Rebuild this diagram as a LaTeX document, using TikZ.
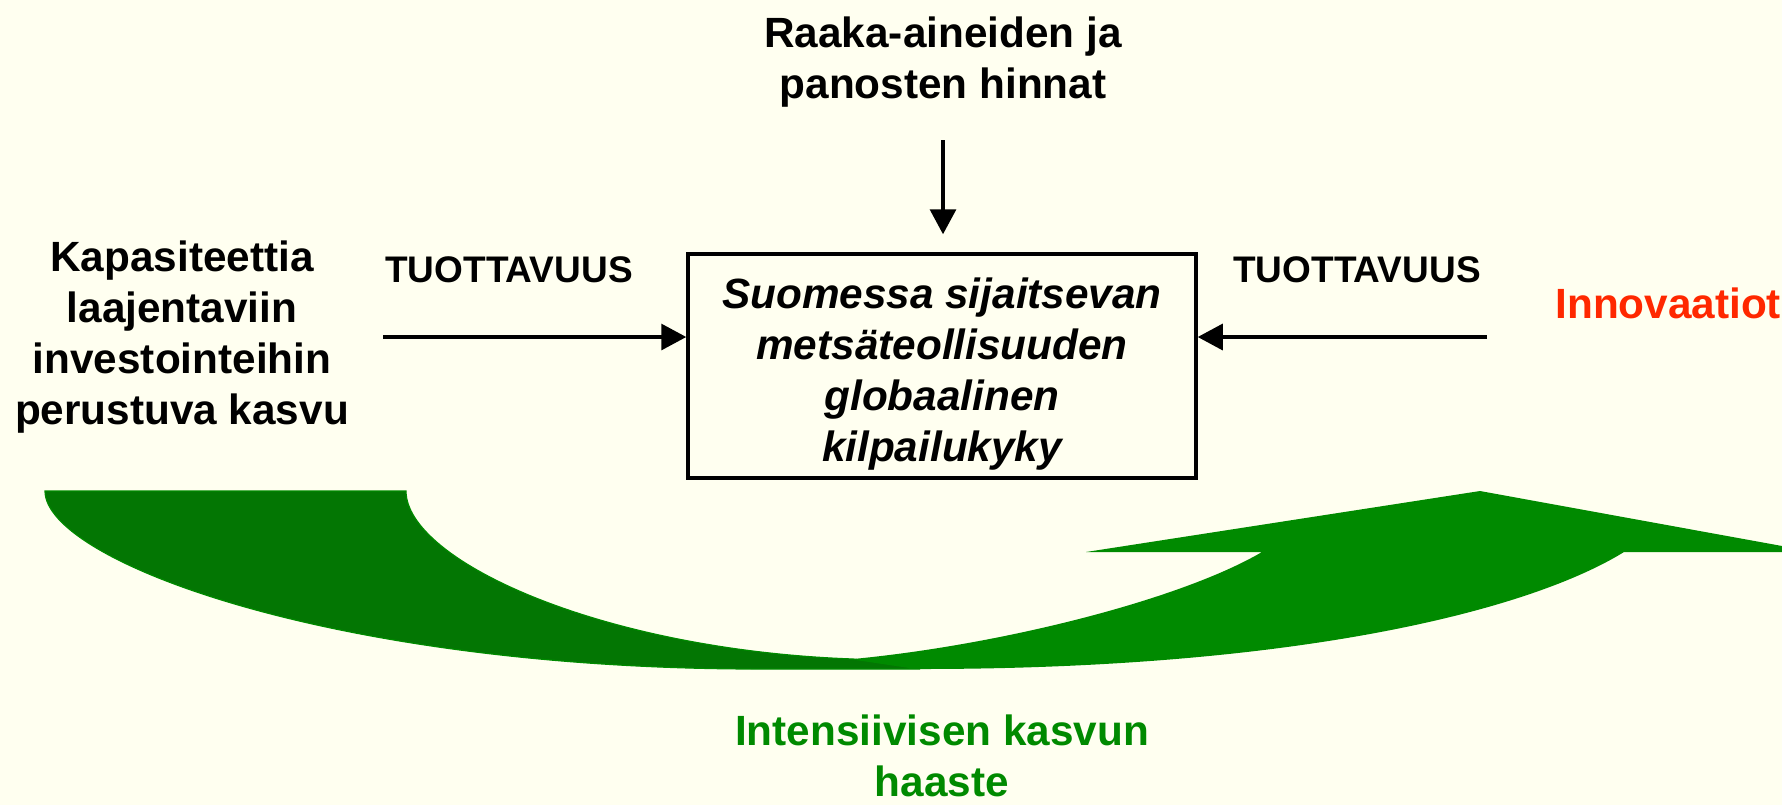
\documentclass[tikz,border=0pt]{standalone}
\usepackage{fontspec}
\setmainfont{Liberation Sans}
\usetikzlibrary{arrows.meta}
\definecolor{bg}{RGB}{255,255,240}
\definecolor{darkband}{RGB}{3,118,3}
\definecolor{lightband}{RGB}{0,138,0}
\definecolor{redtxt}{RGB}{255,40,0}
\begin{document}
\begin{tikzpicture}[x=0.5pt,y=-0.5pt,
  lbl/.style={font=\fontsize{21.15}{25.4}\selectfont\bfseries, align=center, inner sep=0pt},
  smalllbl/.style={font=\fontsize{18.5}{22}\selectfont\bfseries, inner sep=0pt},
  arr/.style={line width=1.6pt, -{Triangle[length=12.5pt,width=13pt]}},
  mainbox/.style={draw, line width=1.75pt, minimum width=254pt, minimum height=112pt, inner sep=0pt},
  boxtext/.style={inner sep=0pt, align=center, font=\fontsize{21.15}{25.4}\selectfont\bfseries\itshape},
  darkpart/.style={fill=darkband, draw=lightband, line width=0.6pt},
  lightpart/.style={fill=lightband}]
\fill[bg] (0,0) rectangle (1782,805);
\useasboundingbox (0,0) rectangle (1782,805);
\clip (0,0) rectangle (1782,805);

% green curved arrow
\filldraw[darkpart] (45,491) .. controls (45,560) and (330,669) .. (760,669) -- (920,669)
  -- (853,659) .. controls (600,650) and (406,560) .. (406,491) -- cycle;
\fill[lightpart] (853,659) .. controls (1000,645) and (1180,600) .. (1262,552)
  -- (1086,552) -- (1480,491) -- (1815,552) -- (1624,552)
  .. controls (1530,610) and (1300,669) .. (920,669) -- cycle;

% central box
\node[mainbox] (box) at (942,366) {};
\node[boxtext] (boxlbl) at (942,374) {Suomessa sijaitsevan\\metsäteollisuuden\\globaalinen\\kilpailukyky};

% texts
\node[lbl] (raaka) at (943,62) {Raaka-aineiden ja\\panosten hinnat};
\node[lbl] (kapa) at (182,337) {Kapasiteettia\\laajentaviin\\investointeihin\\perustuva kasvu};
\node[smalllbl] (tuotL) at (509,270) {TUOTTAVUUS};
\node[smalllbl] (tuotR) at (1357,270) {TUOTTAVUUS};
\node[lbl, text=redtxt, anchor=west] (innov) at (1555,303) {Innovaatiot};
\node[lbl, text=lightband] (haaste) at (942,756) {Intensiivisen kasvun\\haaste};

% connectors
\coordinate (d1) at (943,140);
\coordinate (l1) at (383,337);
\coordinate (r1) at (1487,337);
\draw[arr, shorten >=9pt] (d1) -- (d1 |- box.north);
\draw[arr] (l1) -- (l1 -| box.west);
\draw[arr] (r1) -- (r1 -| box.east);
\end{tikzpicture}
\end{document}
